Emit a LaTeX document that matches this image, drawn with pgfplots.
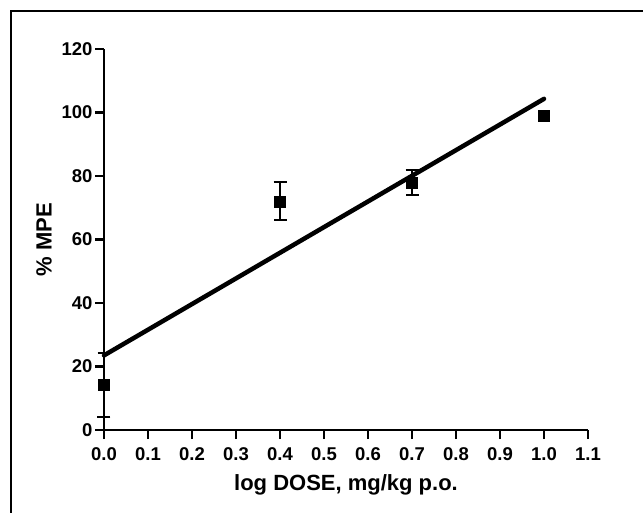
\documentclass[border=0pt]{standalone}
\usepackage{fontspec}
\setmainfont{Liberation Sans}
\usepackage{pgfplots}
\pgfplotsset{compat=1.18}

\begin{document}
\begin{tikzpicture}[x=1pt,y=1pt]
  \useasboundingbox (0,0) rectangle (643,512);
  % outer frame (only left and top edges show)
  \draw[line width=2.5pt] (11,-5) -- (11,501) -- (650,501);
  \begin{axis}[
    at={(104pt,82pt)}, anchor=south west,
    scale only axis, width=484pt, height=381pt,
    xmin=0, xmax=1.1, ymin=0, ymax=120,
    axis x line*=bottom, axis y line*=left,
    axis line style={line width=2.5pt},
    xtick={0,0.1,0.2,0.3,0.4,0.5,0.6,0.7,0.8,0.9,1.0,1.1},
    ytick={0,20,40,60,80,100,120},
    tick align=outside, major tick length=9pt,
    every tick/.style={line width=2.5pt, black},
    xticklabel style={yshift=-5pt, /pgf/number format/.cd, fixed, fixed zerofill, precision=1},
    yticklabel style={xshift=1pt},
    /pgf/number format/assume math mode=true,
    tick label style={font=\fontsize{18.5}{22}\selectfont\bfseries},
    xlabel={log DOSE, mg/kg p.o.},
    ylabel={\% MPE},
    label style={font=\fontsize{22}{26}\selectfont\bfseries},
    xlabel style={at={(axis description cs:0.5,-0.1575)}, anchor=base},
    ylabel style={at={(axis description cs:-0.108,0.5)}, anchor=base, rotate=0},
    clip=false,
  ]
    % fitted line
    \addplot[black, line width=4.5pt, line cap=round] coordinates {(0,23.5) (1.0,104.3)};
    % means with SEM
    \addplot[black, only marks, mark=square*, mark size=5.5pt,
      error bars/.cd, y dir=both, y explicit,
      error bar style={line width=2pt, black},
      error mark options={rotate=90, mark size=6.5pt, line width=2pt, black}]
      coordinates {
        (0.0,14.2) +- (0,10.2)
        (0.4,72.0) +- (0,6.0)
        (0.7,77.9) +- (0,3.9)
      };
    \addplot[black, only marks, mark=square*, mark size=5.5pt]
      coordinates {(1.0,98.9)};
  \end{axis}
\end{tikzpicture}
\end{document}
